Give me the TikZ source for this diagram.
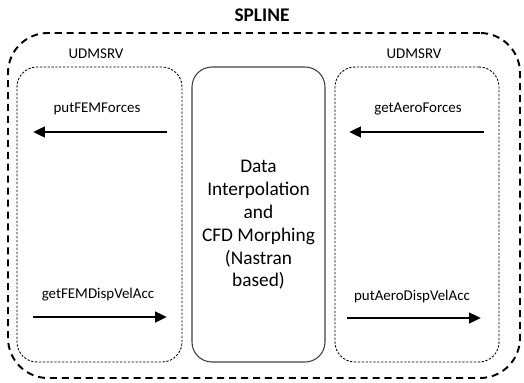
\documentclass[tikz,border=0pt]{standalone}
\usepackage{fontspec}
\setmainfont{Carlito}
\usepackage{tikz}
\usetikzlibrary{positioning}
\usetikzlibrary{arrows.meta}
\usepackage{xcolor}

\begin{document}
\begin{tikzpicture}[
    outer/.style={rectangle, draw, line width=1.1pt, dash pattern=on 4pt off 2.8pt, rounded corners=0.8cm, minimum width=10.24cm, minimum height=6.9cm},
    srv/.style={rectangle, draw, line width=0.5pt, dash pattern=on 1.3pt off 0.9pt, rounded corners=0.4cm, minimum width=3.3cm, minimum height=5.9cm},
    core/.style={rectangle, draw=black!75, line width=0.6pt, rounded corners=0.4cm, minimum width=2.66cm, minimum height=5.9cm},
    lbl/.style={font=\fontsize{8.5}{10}\selectfont},
    arrow/.style={-{Triangle[length=6.8pt, width=6pt]}, line width=1.5pt}
]
    \useasboundingbox (0,0) rectangle (10.48,7.64);

    % Outer box
    \node[outer] (spline) at (5.28,3.53) {};
    \node[font=\fontsize{11}{13}\selectfont\bfseries] (title) at (5.24,7.33) {SPLINE};

    % Service boxes
    \node[srv] (lsrv) at (1.99,3.35) {};
    \node[srv, minimum width=3.28cm] (rsrv) at (8.34,3.35) {};
    \node[lbl, above=1pt of lsrv.north, xshift=-0.07cm] (lname) {UDMSRV};
    \node[lbl, above=1pt of rsrv.north, xshift=-0.06cm] (rname) {UDMSRV};

    % Interpolation box
    \node[core] (interp) at (5.17,3.35) {};
    \node[align=center, font=\fontsize{11}{13}\selectfont] (itext) at (5.17,3.14)
        {Data\\Interpolation\\and\\CFD Morphing\\(Nastran\\based)};

    % Arrow ends
    \coordinate (pf1) at (3.34,5.0);
    \coordinate (pf2) at (0.66,5.0);
    \coordinate (ga1) at (9.68,5.0);
    \coordinate (ga2) at (6.98,5.0);
    \coordinate (gf1) at (0.66,1.3);
    \coordinate (gf2) at (3.34,1.3);
    \coordinate (pa1) at (6.94,1.28);
    \coordinate (pa2) at (9.62,1.28);

    % Connections
    \draw[arrow] (pf1) -- (pf2) node[lbl, midway, above=0.2cm, xshift=-0.06cm] (pflbl) {putFEMForces};
    \draw[arrow] (ga1) -- (ga2) node[lbl, midway, above=0.2cm, xshift=0.03cm] (galbl) {getAeroForces};
    \draw[arrow] (gf1) -- (gf2) node[lbl, midway, above=0.18cm, xshift=-0.04cm] (gflbl) {getFEMDispVelAcc};
    \draw[arrow] (pa1) -- (pa2) node[lbl, midway, above=0.16cm, xshift=-0.04cm] (palbl) {putAeroDispVelAcc};
\end{tikzpicture}
\end{document}
